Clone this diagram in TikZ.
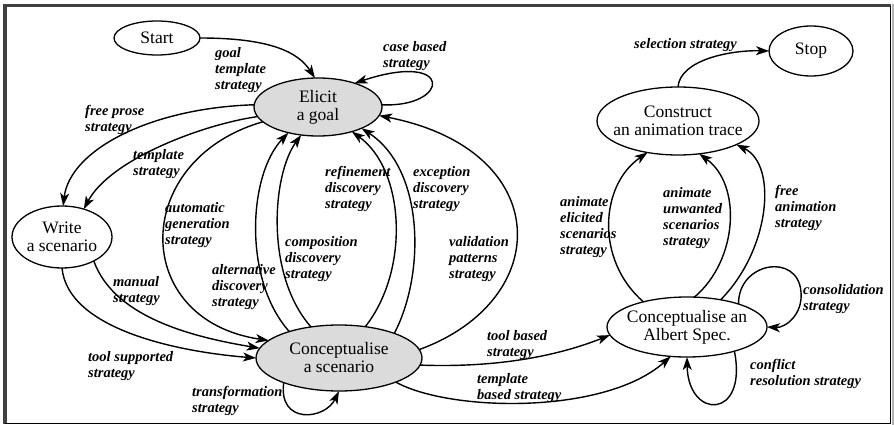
\documentclass[tikz,border=0pt]{standalone}
\usepackage{fontspec}
\setmainfont{Liberation Serif}
\usetikzlibrary{shapes.geometric,arrows.meta}
\begin{document}
\begin{tikzpicture}[x=1pt,y=-1pt,
  state/.style={ellipse,draw,line width=1.3pt,inner sep=0pt,outer sep=0pt},
  shaded/.style={state,fill=black!14},
  stxt/.style={font=\fontsize{17.5}{18}\selectfont,align=center,inner sep=0pt},
  lab/.style={font=\fontsize{14.5}{16}\selectfont\bfseries\itshape,align=left,inner sep=0pt,anchor=north west},
  conn/.style={line width=1.4pt,-{Stealth[length=13pt,width=9pt,inset=3.5pt]}}]
\useasboundingbox (0,0) rectangle (894,425);
\fill[white] (0,0) rectangle (894,425);
% frame: shadowed top/left, thin right/bottom
\fill[black!75] (3,4) rectangle (7,424);
\fill[black!75] (3,4) rectangle (891,7);
\draw[line width=1.2pt] (890.5,6) -- (890.5,423.5) -- (5,423.5);
\fill[black!30] (892,4) rectangle (894,425);

% states
\node[state,minimum width=86pt,minimum height=34pt,label={[stxt]center:Start}] (start) at (157,38) {};
\node[shaded,minimum width=128pt,minimum height=58pt,label={[stxt]center:Elicit\\a goal}] (elicit) at (318,107) {};
\node[state,minimum width=100pt,minimum height=62pt,label={[stxt]center:Write\\a scenario}] (write) at (62,237) {};
\node[shaded,minimum width=166pt,minimum height=66pt,label={[stxt]center:Conceptualise\\a scenario}] (cscen) at (339,358) {};
\node[state,minimum width=162pt,minimum height=68pt,label={[stxt]center:Construct\\an animation trace}] (trace) at (678,121) {};
\node[state,minimum width=84pt,minimum height=50pt,label={[stxt]center:Stop}] (stop) at (811,51) {};
\node[state,minimum width=160pt,minimum height=60pt,label={[stxt]center:Conceptualise an\\Albert Spec.}] (albert) at (687,327) {};

% transitions
\draw[conn] (start.east) .. controls (270,38) and (298,52) .. (elicit.96);
\draw[conn] (elicit.2) .. controls (450,108) and (455,50) .. (elicit.33);
\draw[conn] (elicit.178) .. controls (150,108) and (70,150) .. (write.88);
\draw[conn] (elicit.189) .. controls (200,125) and (110,160) .. (write.52);
\draw[conn] (elicit.195) .. controls (130,160) and (130,320) .. (cscen.166);
\draw[conn] (write.323) .. controls (115,320) and (200,338) .. (cscen.173);
\draw[conn] (write.south) .. controls (68,330) and (180,352) .. (cscen.180);
\draw[conn] (cscen.152) .. controls (243,280) and (248,175) .. (elicit.221);
\draw[conn] (cscen.132) .. controls (265,275) and (272,175) .. (elicit.239);
\draw[conn] (cscen.50) .. controls (410,270) and (405,170) .. (elicit.324);
\draw[conn] (cscen.24) .. controls (425,275) and (425,170) .. (elicit.334);
\draw[conn] (cscen.6) .. controls (555,300) and (555,150) .. (elicit.352);
\draw[conn] (cscen.204) .. controls (278,425) and (325,420) .. (cscen.south);
\draw[conn] (cscen.355) .. controls (500,368) and (560,355) .. (albert.186);
\draw[conn] (cscen.337) .. controls (450,412) and (605,415) .. (albert.241);
\draw[conn] (albert.150) .. controls (595,260) and (600,185) .. (trace.226);
\draw[conn] (albert.76) .. controls (738,260) and (742,185) .. (trace.303);
\draw[conn] (albert.39) .. controls (770,250) and (778,165) .. (trace.338);
\draw[conn] (albert.24) .. controls (738,262) and (798,252) .. (801,292) .. controls (803,315) and (785,328) .. (albert.east);
\draw[conn] (albert.333) .. controls (748,420) and (688,420) .. (albert.south);
\draw[conn] (trace.north) .. controls (680,60) and (730,50) .. (stop.west);

% strategy labels
\node[lab] (l1) at (215,47) {goal\\template\\strategy};
\node[lab] (l2) at (383,41) {case based\\strategy};
\node[lab] (l3) at (85,105) {free prose\\strategy};
\node[lab] (l4) at (133,149) {template\\strategy};
\node[lab] (l5) at (165,202) {automatic\\generation\\strategy};
\node[lab] (l6) at (325,166) {refinement\\discovery\\strategy};
\node[lab] (l7) at (413,166) {exception\\discovery\\strategy};
\node[lab] (l8) at (285,236) {composition\\discovery\\strategy};
\node[lab] (l9) at (212,264) {alternative\\discovery\\strategy};
\node[lab] (l10) at (113,276) {manual\\strategy};
\node[lab] (l11) at (88,351) {tool supported\\strategy};
\node[lab] (l12) at (192,386) {transformation\\strategy};
\node[lab] (l13) at (449,236) {validation\\patterns\\strategy};
\node[lab] (l14) at (560,196) {animate\\elicited\\scenarios\\strategy};
\node[lab] (l15) at (663,187) {animate\\unwanted\\scenarios\\strategy};
\node[lab] (l16) at (775,185) {free\\animation\\strategy};
\node[lab] (l17) at (634,38) {selection strategy};
\node[lab] (l18) at (803,284) {consolidation\\strategy};
\node[lab] (l19) at (750,359) {conflict\\resolution strategy};
\node[lab] (l20) at (487,330) {tool based\\strategy};
\node[lab] (l21) at (477,373) {template\\based strategy};
\end{tikzpicture}
\end{document}
